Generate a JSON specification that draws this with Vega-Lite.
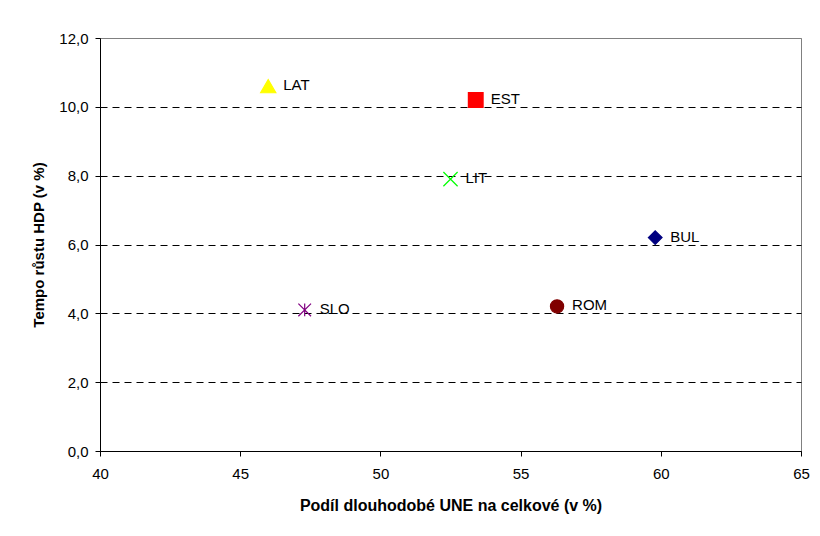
{
  "$schema": "https://vega.github.io/schema/vega-lite/v6.json",
  "width": 701,
  "height": 413,
  "autosize": {"type": "none"},
  "padding": {"left": 100, "top": 38, "right": 19, "bottom": 85},
  "background": "white",
  "config": {
    "font": "Liberation Sans",
    "view": {"stroke": "#808080", "strokeWidth": 1}
  },
  "data": {
    "values": [
      {"country": "LAT", "une": 46.0, "gdp": 10.6},
      {"country": "EST", "une": 53.4, "gdp": 10.2},
      {"country": "LIT", "une": 52.5, "gdp": 7.9},
      {"country": "BUL", "une": 59.8, "gdp": 6.2},
      {"country": "ROM", "une": 56.3, "gdp": 4.2},
      {"country": "SLO", "une": 47.3, "gdp": 4.1}
    ]
  },
  "encoding": {
    "x": {
      "field": "une",
      "type": "quantitative",
      "scale": {"domain": [40, 65], "nice": false, "zero": false},
      "axis": {
        "title": "Podíl dlouhodobé UNE na celkové (v %)",
        "values": [40, 45, 50, 55, 60, 65],
        "grid": false,
        "domainColor": "black",
        "tickColor": "black",
        "tickSize": 5,
        "labelFontSize": 15,
        "labelColor": "black",
        "labelPadding": 10,
        "labelFlush": false,
        "titleFontSize": 16,
        "titleFontWeight": "bold",
        "titleColor": "black",
        "titlePadding": 16
      }
    },
    "y": {
      "field": "gdp",
      "type": "quantitative",
      "scale": {"domain": [0, 12], "nice": false, "zero": true},
      "axis": {
        "title": "Tempo růstu HDP (v %)",
        "values": [0, 2, 4, 6, 8, 10, 12],
        "labelExpr": "replace(format(datum.value, '.1f'), '.', ',')",
        "grid": true,
        "gridColor": {"condition": {"test": "datum.value == 12", "value": "#808080"}, "value": "black"},
        "gridDash": {"condition": {"test": "datum.value == 12 || datum.value == 0", "value": []}, "value": [7, 5]},
        "gridWidth": 1,
        "domainColor": "black",
        "tickColor": "black",
        "tickSize": 5,
        "labelFontSize": 15,
        "labelColor": "black",
        "labelPadding": 7,
        "labelFlush": false,
        "titleFontSize": 15,
        "titleFontWeight": "bold",
        "titleColor": "black",
        "titlePadding": 12
      }
    }
  },
  "layer": [
    {
      "mark": {"type": "point", "filled": true, "opacity": 1, "strokeWidth": 1.2},
      "encoding": {
        "shape": {
          "field": "country",
          "type": "nominal",
          "legend": null,
          "scale": {
            "domain": ["LAT", "EST", "LIT", "BUL", "ROM", "SLO"],
            "range": ["triangle-up", "square", "M-1,-1L1,1M-1,1L1,-1", "diamond", "circle", "M-1,-1L1,1M-1,1L1,-1M0,-1L0,1"]
          }
        },
        "fill": {
          "field": "country",
          "type": "nominal",
          "legend": null,
          "scale": {
            "domain": ["LAT", "EST", "LIT", "BUL", "ROM", "SLO"],
            "range": ["#FFFF00", "#FF0000", "#00FF00", "#000080", "#800000", "#800080"]
          }
        },
        "stroke": {
          "field": "country",
          "type": "nominal",
          "legend": null,
          "scale": {
            "domain": ["LAT", "EST", "LIT", "BUL", "ROM", "SLO"],
            "range": ["#FFFF00", "#FF0000", "#00FF00", "#000080", "#800000", "#800080"]
          }
        },
        "size": {
          "field": "country",
          "type": "nominal",
          "legend": null,
          "scale": {
            "domain": ["LAT", "EST", "LIT", "BUL", "ROM", "SLO"],
            "range": [230, 160, 200, 230, 210, 200]
          }
        }
      }
    },
    {
      "mark": {"type": "text", "align": "left", "baseline": "middle", "dx": 15, "dy": -1, "fontSize": 15, "color": "black"},
      "encoding": {
        "text": {"field": "country", "type": "nominal"}
      }
    }
  ]
}
